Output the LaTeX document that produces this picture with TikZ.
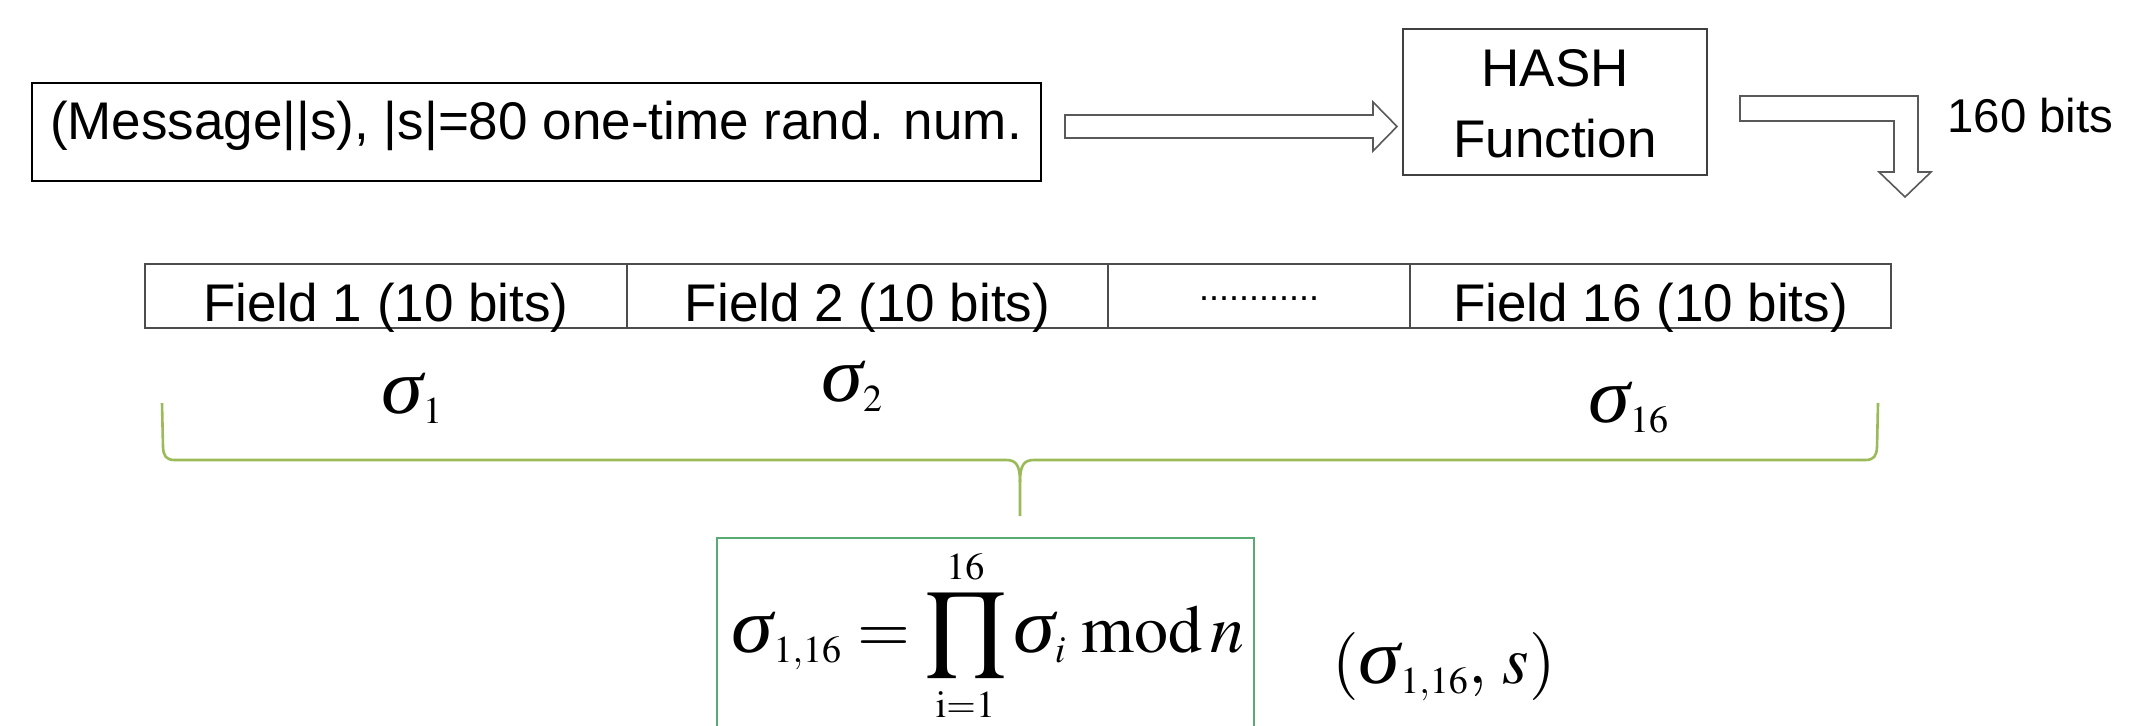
\documentclass[tikz,border=0pt]{standalone}
\usepackage{graphicx}
\usepackage{mathptmx}
\usepackage[no-math]{fontspec}
\setmainfont{Liberation Sans}
\newfontfamily\libser{Liberation Serif}[Scale=1.15]
\newcommand{\sg}{\mbox{\libser\itshape\scalebox{1.08}[1]{σ}}}
\DeclareMathSizes{34}{34}{19}{14}
\definecolor{bracegreen}{RGB}{155,187,89}
\definecolor{boxgreen}{RGB}{90,170,115}
\begin{document}
\begin{tikzpicture}[x=0.5pt,y=-0.5pt,
  blackbox/.style={draw=black, line width=1pt, inner sep=0pt},
  graybox/.style={draw=black!75, line width=1pt, inner sep=0pt},
  fieldbox/.style={draw=black!70, line width=1pt, inner sep=0pt, minimum height=32pt},
  txt/.style={font=\fontsize{26.5}{30}\selectfont, anchor=base, inner sep=0pt},
  mth/.style={font=\fontsize{34}{40}\selectfont, inner sep=0pt},
  hollow/.style={draw=black!65, line width=0.8pt, fill=white, line join=miter},
  bracestyle/.style={draw=bracegreen, line width=1.3pt},
  greenbox/.style={draw=boxgreen, line width=1pt}]
\clip (0,0) rectangle (2145,725);
\fill[white] (0,0) rectangle (2145,725);

% message box
\node[blackbox, minimum width=504.5pt, minimum height=49pt] (msg) at (536.5,132) {};
\node[txt] (msgtxt) at (536,139) {(Message||s), |s|=80 one-time rand. num.};

% hash box
\node[graybox, minimum width=152pt, minimum height=73pt] (hash) at (1555,102) {};
\node[txt] (hashA) at (1555,86) {HASH};
\node[txt] (hashB) at (1555,157) {Function};

% hollow arrow message -> hash
\coordinate (a1s) at (1065,126.5);
\coordinate (a1t) at (1397,126.5);
\draw[hollow] (a1s) ++(0,-11.5) -- (1373,115) -- (1373,102) -- (a1t) -- (1373,151) -- (1373,138) -- (1065,138) -- cycle;

% elbow arrow
\coordinate (a2s) at (1740,108.5);
\coordinate (a2t) at (1905,197);
\draw[hollow] (1740,96) -- (1918,96) -- (1918,172) -- (1931,172) -- (a2t) -- (1879,172) -- (1894,172) -- (1894,121) -- (1740,121) -- cycle;
\node[font=\fontsize{23.7}{28}\selectfont, anchor=base west, inner sep=0pt] (bits) at (1947,132) {160 bits};

% fields
\node[fieldbox, minimum width=241pt] (f1) at (386,296) {};
\node[fieldbox, minimum width=240.5pt] (f2) at (867.5,296) {};
\node[fieldbox, minimum width=151pt] (f3) at (1259,296) {};
\node[fieldbox, minimum width=240.5pt] (f4) at (1650.5,296) {};
\node[txt] (f1t) at (386,321) {Field 1 (10 bits)};
\node[txt] (f2t) at (867.5,321) {Field 2 (10 bits)};
\node[font=\fontsize{18}{20}\selectfont, anchor=base, inner sep=0pt] (f3t) at (1259,300) {............};
\node[txt] (f4t) at (1650.5,321) {Field 16 (10 bits)};

% sigma labels
\node[mth, anchor=base west] (s1) at (381,413) {$\sg_1$};
\node[mth, anchor=base west] (s2) at (821,401) {$\sg_2$};
\node[mth, anchor=base west] (s16) at (1588,422) {$\sg_{16}$};

% brace
\coordinate (bl) at (162,403);
\coordinate (br) at (1878,403);
\coordinate (bm) at (1020,516);
\draw[bracestyle] (bl) -- (163,447) .. controls (163.5,456) and (166,460) .. (175,460)
  -- (1006,460) .. controls (1016,460) and (1020,465) .. (1020,482) -- (bm);
\draw[bracestyle] (br) -- (1877,447) .. controls (1876.5,456) and (1874,460) .. (1865,460)
  -- (1034,460) .. controls (1024,460) and (1020,465) .. (1020,482);

% formula box
\draw[greenbox] (717,538) rectangle (1254,780);
\node[mth, anchor=base] (formula) at (988,652) {$\displaystyle \sg_{1,16}=\prod_{\mathrm{i}=1}^{16}\sg_i\;\mathrm{mod}\,n$};
\node[mth, anchor=base] (pair) at (1444,683) {$(\sg_{1,16},\,s)$};
\end{tikzpicture}
\end{document}
